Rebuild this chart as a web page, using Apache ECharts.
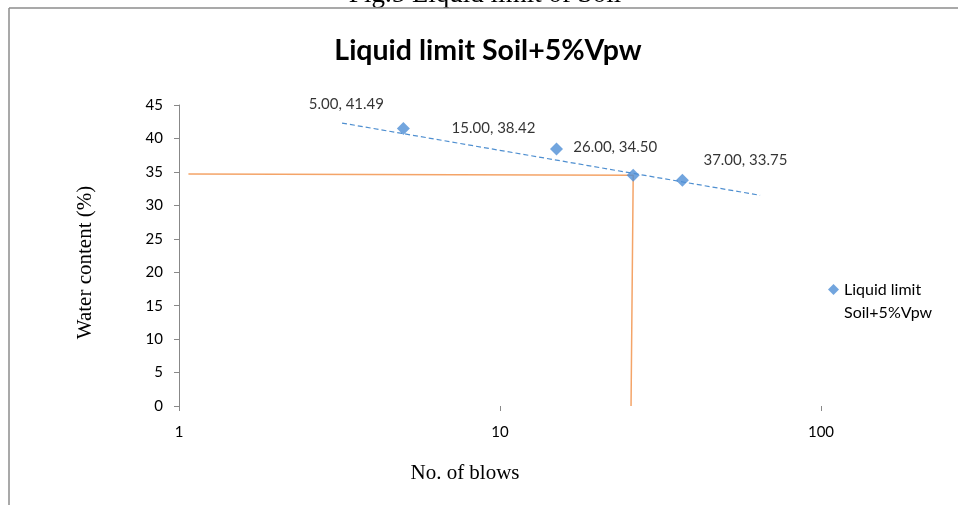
<!DOCTYPE html>
<html>
<head>
<meta charset="utf-8">
<script src="https://cdn.jsdelivr.net/npm/echarts@6/dist/echarts.min.js"></script>
<style>html,body{margin:0;padding:0;background:#fff;}#c{width:958px;height:505px;}</style>
</head>
<body>
<div id="c"></div>
<script>
// Data
var blows = [5, 15, 26, 37];
var waterContent = [41.49, 38.42, 34.50, 33.75];
var pointLabels = ['5.00, 41.49', '15.00, 38.42', '26.00, 34.50', '37.00, 33.75'];
var trendX = [3.22, 64.6];
var trendY = [42.3, 31.5];
var guideX = [1.07, 26, 25.6];
var guideY = [34.7, 34.5, 0];
var yTicks = [0, 5, 10, 15, 20, 25, 30, 35, 40, 45];
var xTicks = [1, 10, 100];
var seriesName = 'Liquid limit Soil+5%Vpw';

var labelOffsets = [[-57, -24], [-63, -21], [-18, -28], [63, -20]];

var chart = echarts.init(document.getElementById('c'));
var scatterData = blows.map(function (b, i) {
  return {
    value: [b, waterContent[i]],
    label: { show: true, position: 'inside', offset: labelOffsets[i], formatter: pointLabels[i] }
  };
});

chart.setOption({
  animation: false,
  backgroundColor: '#ffffff',
  title: {
    text: 'Liquid limit Soil+5%Vpw',
    left: 483, top: 31, textAlign: 'center',
    textStyle: { fontFamily: 'Lato', fontWeight: 'bold', fontSize: 28.5, color: '#000' }
  },
  graphic: [
    { type: 'text', x: 485, y: 8, style: { text: 'Fig.5 Liquid limit of Soil', font: '27px "Liberation Serif"', fill: '#000', align: 'center', verticalAlign: 'bottom' } },
    { type: 'line', shape: { x1: 9, y1: 8, x2: 958, y2: 8 }, style: { stroke: '#8c8c8c', lineWidth: 1.5 } },
    { type: 'line', shape: { x1: 9, y1: 8, x2: 9, y2: 505 }, style: { stroke: '#8c8c8c', lineWidth: 1.5 } }
  ],
  legend: {
    data: [seriesName],
    left: 823, top: 250,
    icon: 'diamond', itemWidth: 11, itemHeight: 11, itemGap: 4,
    formatter: function (n) { return '\nLiquid limit\nSoil+5%Vpw'; },
    textStyle: { fontFamily: 'Lato', fontSize: 16, color: '#000', lineHeight: 23 }
  },
  grid: { left: 179, right: 137, top: 105, bottom: 99 },
  xAxis: {
    type: 'log', logBase: 10, min: 1, max: 100,
    name: 'No. of blows', nameLocation: 'middle', nameGap: 57,
    nameTextStyle: { fontFamily: 'Liberation Serif', fontSize: 21, color: '#000', padding: [0, 70, 0, 0] },
    axisLine: { show: false },
    axisTick: { show: true, length: 5, lineStyle: { color: '#888' } },
    minorTick: { show: false },
    splitLine: { show: false },
    axisLabel: { margin: 19, fontFamily: 'Lato', fontSize: 15, color: '#000',
      formatter: function (v) { return xTicks.indexOf(Math.round(v)) >= 0 ? String(Math.round(v)) : ''; } }
  },
  yAxis: {
    type: 'value', min: 0, max: 45, interval: 5,
    name: 'Water content (%)', nameLocation: 'middle', nameGap: 83,
    nameTextStyle: { fontFamily: 'Liberation Serif', fontSize: 21, color: '#000', padding: [0, 14, 0, 0] },
    axisLine: { show: true, lineStyle: { color: '#888', width: 1 } },
    axisTick: { show: true, length: 5, lineStyle: { color: '#888' } },
    splitLine: { show: false },
    axisLabel: { margin: 16, fontFamily: 'Lato', fontSize: 15, color: '#000',
      formatter: function (v) { return yTicks.indexOf(v) >= 0 ? String(v) : ''; } }
  },
  series: [
    {
      name: 'guide', type: 'line', silent: true, symbol: 'none',
      data: guideX.map(function (x, i) { return [x, guideY[i]]; }),
      lineStyle: { color: '#F4A468', width: 1.5 }, z: 1
    },
    {
      name: 'trend', type: 'line', silent: true, symbol: 'none',
      data: trendX.map(function (x, i) { return [x, trendY[i]]; }),
      lineStyle: { color: '#4F8FD0', width: 1.2, type: [5, 3] }, z: 2
    },
    {
      name: seriesName, type: 'scatter', symbol: 'diamond', symbolSize: 13,
      itemStyle: { color: '#4F8FD6' },
      label: { fontFamily: 'Lato', fontSize: 15, color: '#000' },
      data: scatterData, z: 3
    }
  ]
});
</script>
</body>
</html>
